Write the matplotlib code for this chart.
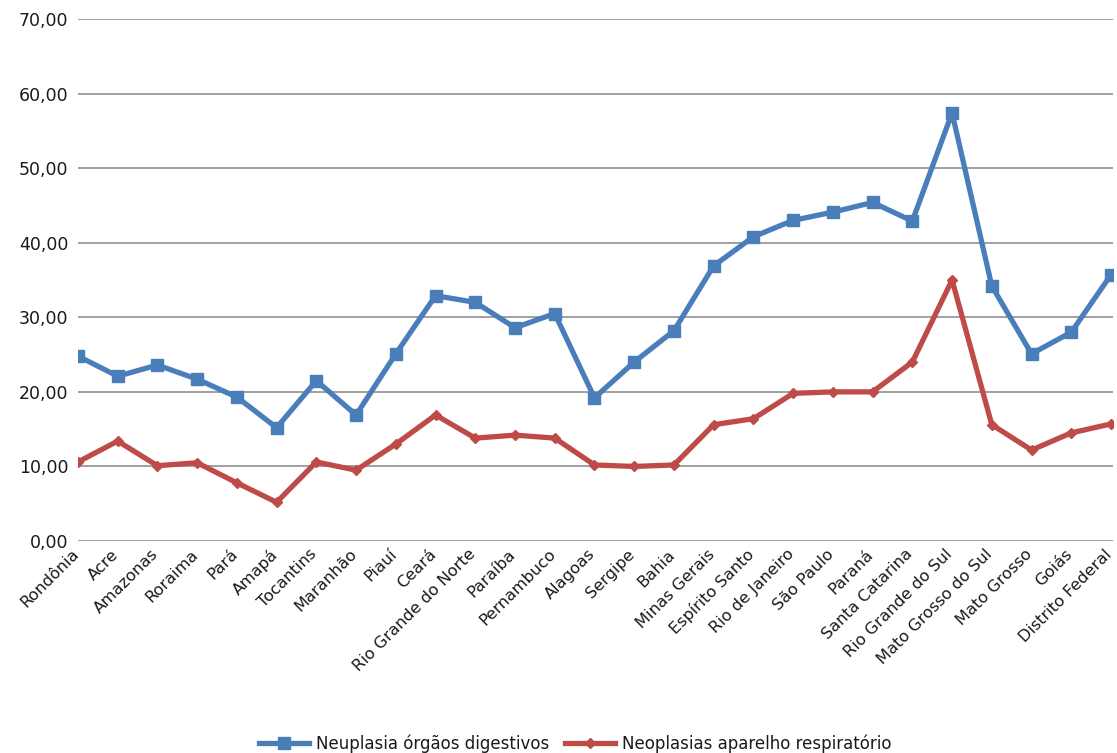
import matplotlib
matplotlib.use("Agg")
import matplotlib.pyplot as plt
import matplotlib.transforms as mtransforms
from matplotlib.ticker import FuncFormatter

estados = ["Rondônia", "Acre", "Amazonas", "Roraima", "Pará", "Amapá", "Tocantins",
           "Maranhão", "Piauí", "Ceará", "Rio Grande do Norte", "Paraíba", "Pernambuco",
           "Alagoas", "Sergipe", "Bahia", "Minas Gerais", "Espírito Santo",
           "Rio de Janeiro", "São Paulo", "Paraná", "Santa Catarina",
           "Rio Grande do Sul", "Mato Grosso do Sul", "Mato Grosso", "Goiás",
           "Distrito Federal"]

digestivos = [24.8, 22.1, 23.6, 21.7, 19.3, 15.2, 21.5, 16.9, 25.1, 32.9, 32.0, 28.6,
              30.5, 19.2, 24.0, 28.2, 36.9, 40.8, 43.0, 44.1, 45.4, 42.9, 57.4, 34.2,
              25.1, 28.0, 35.7]

respiratorio = [10.6, 13.4, 10.1, 10.5, 7.8, 5.2, 10.6, 9.5, 13.0, 16.9, 13.8, 14.2,
                13.8, 10.2, 10.0, 10.2, 15.6, 16.4, 19.8, 20.0, 20.0, 24.0, 35.0, 15.6,
                12.2, 14.5, 15.7]

plt.rcParams["font.family"] = ["DejaVu Sans"]

fig = plt.figure(figsize=(11.17, 7.53), dpi=100)
ax = fig.add_axes([0.0698, 0.2815, 0.9266, 0.6933])

x = range(len(estados))
ax.plot(x, digestivos, color="#4A7EBB", lw=3.8, marker="s", ms=8,
        label="Neuplasia órgãos digestivos")
ax.plot(x, respiratorio, color="#BE4B48", lw=3.8, marker="D", ms=5,
        label="Neoplasias aparelho respiratório")

ax.set_ylim(0, 70)
ax.set_yticks(range(0, 71, 10))
ax.yaxis.set_major_formatter(FuncFormatter(lambda v, p: f"{v:.2f}".replace(".", ",")))
ax.set_xlim(0, len(estados) - 1 + 0.05)
ax.set_xticks(list(x))
ax.set_xticklabels(estados, rotation=45, ha="right", rotation_mode="anchor",
                   fontsize=11.6, color="#1a1a1a")
ax.tick_params(axis="y", length=0, labelsize=12.5, pad=7, labelcolor="#1a1a1a")
ax.tick_params(axis="x", length=0, pad=4)

# nudge the slanted labels a little left so the last one stays inside
shift = mtransforms.ScaledTranslation(-7 / 100, 0, fig.dpi_scale_trans)
for lbl in ax.get_xticklabels():
    lbl.set_transform(lbl.get_transform() + shift)

ax.grid(axis="y", color="#A0A0A0", lw=1.4)
ax.set_axisbelow(True)
for s in ax.spines.values():
    s.set_visible(False)

fig.legend(loc="lower center", bbox_to_anchor=(0.515, -0.02), ncol=2, frameon=False,
           fontsize=12, handlelength=3.0, columnspacing=1.0, handletextpad=0.4,
           labelcolor="#1a1a1a")

fig.savefig("out.png", dpi=100)
